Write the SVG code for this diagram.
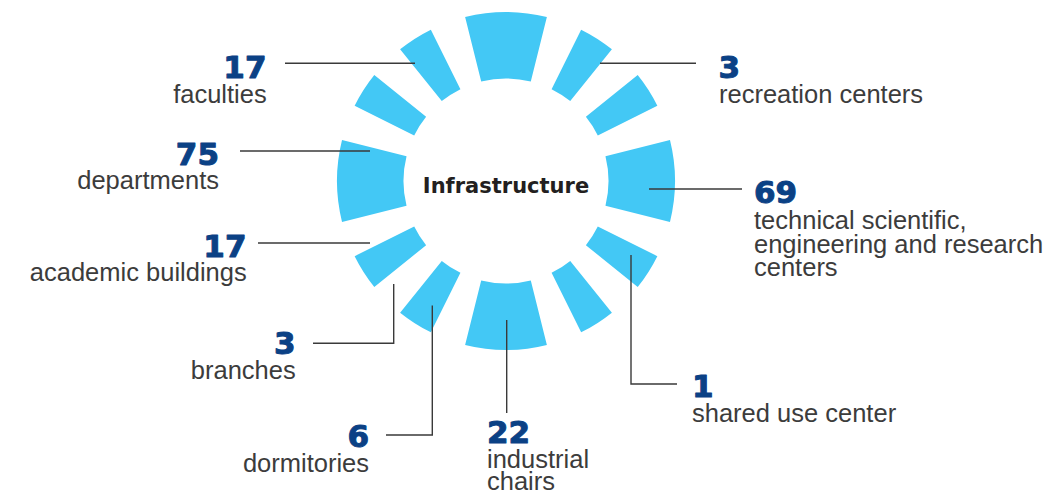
<svg xmlns="http://www.w3.org/2000/svg" xmlns:xlink="http://www.w3.org/1999/xlink" width="1049" height="494" viewBox="0 0 1049 494">
<style>
.seg{fill:#43c8f5}
.num{font-family:"DejaVu Sans",sans-serif;font-weight:bold;font-size:31px;fill:#0b4185;stroke:#0b4185;stroke-width:1;stroke-linejoin:round}
.lbl{font-family:"Liberation Sans",Arial,sans-serif;font-size:25.5px;fill:#3c3c3c}
.end{text-anchor:end}
.conn{fill:none;stroke:#3a3a3a;stroke-width:1.4}
.title{font-family:"DejaVu Sans",sans-serif;font-weight:bold;font-size:21px;fill:#231f20;text-anchor:middle}
</style>
<defs>
<path id="big" d="M -40.88 -163.98 A 169 169 0 0 1 40.88 -163.98 L 24.80 -99.46 A 102.5 102.5 0 0 0 -24.80 -99.46 Z"/>
<path id="sm1" d="M 75.14 -151.37 A 169 169 0 0 1 105.90 -131.71 L 64.23 -79.88 A 102.5 102.5 0 0 0 45.58 -91.81 Z"/>
<path id="sm2" d="M 131.71 -105.90 A 169 169 0 0 1 151.37 -75.14 L 91.81 -45.58 A 102.5 102.5 0 0 0 79.88 -64.23 Z"/>
<g id="quad">
<use xlink:href="#big" href="#big"/>
<use xlink:href="#sm1" href="#sm1"/>
<use xlink:href="#sm2" href="#sm2"/>
</g>
</defs>
<rect width="1049" height="494" fill="#ffffff"/>
<g id="ring" class="seg" transform="translate(506 181)">
<use xlink:href="#quad" href="#quad"/>
<use xlink:href="#quad" href="#quad" transform="rotate(90)"/>
<use xlink:href="#quad" href="#quad" transform="rotate(180)"/>
<use xlink:href="#quad" href="#quad" transform="rotate(270)"/>
</g>
<g id="center">
<text class="title" x="506" y="193.3">Infrastructure</text>
</g>
<g id="connectors" class="conn">
<line x1="285" y1="63.3" x2="415" y2="63.3"/>
<line x1="600" y1="63.3" x2="696" y2="63.3"/>
<line x1="240" y1="151" x2="370" y2="151"/>
<line x1="649" y1="189" x2="742" y2="189"/>
<line x1="258" y1="243" x2="370" y2="243"/>
<polyline points="393.7,284 393.7,343.3 313,343.3"/>
<polyline points="432.3,305.5 432.3,435 386,435"/>
<line x1="506.7" y1="320" x2="506.7" y2="413"/>
<polyline points="631,255 631,384 677,384"/>
</g>
<g id="faculties">
<text class="num end" x="266.5" y="78">17</text>
<text class="lbl end" x="266.7" y="103">faculties</text>
</g>
<g id="departments">
<text class="num end" x="219" y="165">75</text>
<text class="lbl end" x="219" y="188.5">departments</text>
</g>
<g id="academic-buildings">
<text class="num end" x="246.5" y="256.5">17</text>
<text class="lbl end" x="246.7" y="280.5">academic buildings</text>
</g>
<g id="branches">
<text class="num end" x="295.5" y="354">3</text>
<text class="lbl end" x="295.7" y="379">branches</text>
</g>
<g id="dormitories">
<text class="num end" x="369" y="446.5">6</text>
<text class="lbl end" x="369" y="471.5">dormitories</text>
</g>
<g id="industrial-chairs">
<text class="num" x="487" y="443">22</text>
<text class="lbl" x="487" y="467.5">industrial</text>
<text class="lbl" x="487" y="489.5">chairs</text>
</g>
<g id="shared-use-center">
<text class="num" x="692" y="397">1</text>
<text class="lbl" x="692" y="421.5">shared use center</text>
</g>
<g id="research-centers">
<text class="num" x="754" y="203">69</text>
<text class="lbl" x="754" y="229">technical scientific,</text>
<text class="lbl" x="754" y="252.5">engineering and research</text>
<text class="lbl" x="754" y="276">centers</text>
</g>
<g id="recreation-centers">
<text class="num" x="718.5" y="78">3</text>
<text class="lbl" x="719" y="103">recreation centers</text>
</g>
</svg>
